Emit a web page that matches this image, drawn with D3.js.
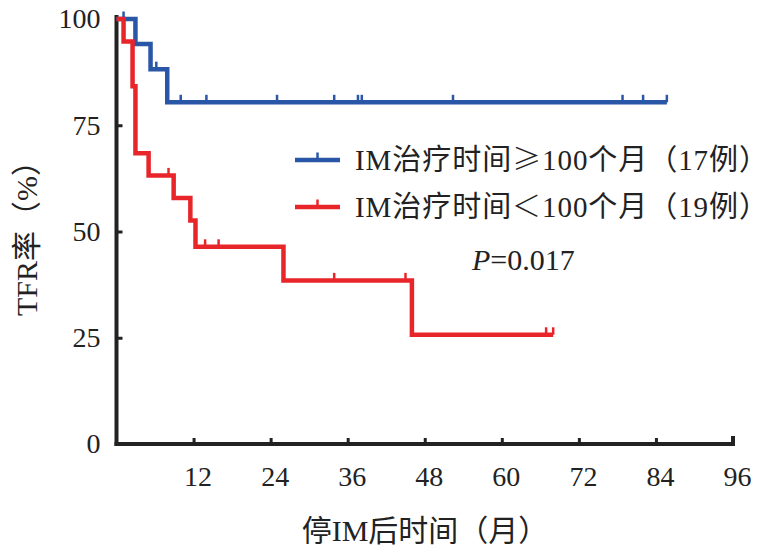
<!DOCTYPE html>
<html lang="zh">
<head>
  <meta charset="UTF-8">
  <title>TFR率</title>
  <style>
    body { margin: 0; background: #fff; }
    text { font-family: "Liberation Serif", "Noto Sans CJK SC", serif; fill: #222; }
  </style>
</head>
<body>
  <svg></svg>
  <script src="https://cdn.jsdelivr.net/npm/d3@7"></script>
  <script>
    // 横轴刻度（月）和纵轴刻度（%）
    var monthTicks = [12, 24, 36, 48, 60, 72, 84, 96];
    var rateTicks = [0, 25, 50, 75, 100];

    // IM治疗时间≥100个月：阶梯点和删失点
    var longTime = [0, 2.95, 5.3, 7.9, 85.7];
    var longRate = [100, 94.1, 88.2, 80.4, 80.4];
    var longCensor = [1.1, 6.2, 10, 14, 25, 33.9, 37.6, 38.2, 52.4, 78.8, 82, 85.7];

    // IM治疗时间<100个月
    var shortTime = [0, 1.1, 2.5, 2.95, 5.0, 8.9, 11.5, 12.3, 26, 46, 68];
    var shortRate = [100, 94.7, 84.2, 68.4, 63.2, 57.9, 52.6, 46.4, 38.5, 25.7, 25.7];
    var shortCensor = [8.1, 13.8, 15.9, 33.9, 45, 66.9, 68];

    var legendLabels = [
      ["IM治疗时间", "≥", "100个月（17例）"],
      ["IM治疗时间", "＜", "100个月（19例）"]
    ];
    var colors = ["#2a56a8", "#e8262a"];

    var width = 776, height = 558;
    var svg = d3.select("svg").attr("width", width).attr("height", height);

    var x = d3.scaleLinear().domain([0, 96]).range([116.5, 733]);
    var y = d3.scaleLinear().domain([0, 100]).range([444, 19]);

    var line = d3.line()
      .x(function (d) { return x(d[0]); })
      .y(function (d) { return y(d[1]); })
      .curve(d3.curveStepAfter);

    // 按时间取生存率
    function rateAt(times, rates, t) {
      var i = d3.bisectRight(times, t) - 1;
      return rates[Math.max(0, i)];
    }

    // 坐标轴
    var axisColor = "#222";
    var xAxis = svg.append("g").attr("transform", "translate(0," + y(0) + ")")
      .call(d3.axisBottom(x).tickValues(monthTicks).tickSize(-6).tickPadding(22));
    var yAxis = svg.append("g").attr("transform", "translate(" + x(0) + ",0)")
      .call(d3.axisLeft(y).tickValues(rateTicks).tickSize(-6).tickPadding(16));
    [xAxis, yAxis].forEach(function (g) {
      g.select(".domain").attr("stroke", axisColor).attr("stroke-width", 4)
        .attr("stroke-linecap", "square");
      g.selectAll(".tick line").attr("stroke", axisColor).attr("stroke-width", 3);
      g.selectAll(".tick text").attr("font-size", 28)
        .attr("font-family", "Liberation Serif").attr("fill", axisColor);
    });
    xAxis.selectAll(".tick text").attr("dy", "0.71em").attr("dx", 4);
    // 纵轴线延伸到坐标原点
    yAxis.select(".domain").attr("d", "M0," + y(0) + "V" + (y(100) - 2));
    xAxis.select(".domain").attr("d", "M" + x(0) + ",0H" + x(96) + "V-6");

    // 生存曲线
    var groups = [
      { t: longTime, r: longRate, c: longCensor, color: colors[0] },
      { t: shortTime, r: shortRate, c: shortCensor, color: colors[1] }
    ];
    groups.forEach(function (s) {
      var pts = s.t.map(function (t, i) { return [t, s.r[i]]; });
      svg.append("path")
        .datum(pts)
        .attr("fill", "none")
        .attr("stroke", s.color)
        .attr("stroke-width", 4.5)
        .attr("stroke-linejoin", "miter")
        .attr("d", line);
      svg.append("g").selectAll("line")
        .data(s.c)
        .join("line")
        .attr("x1", function (d) { return x(d); })
        .attr("x2", function (d) { return x(d); })
        .attr("y1", function (d) { return y(rateAt(s.t, s.r, d)); })
        .attr("y2", function (d) { return y(rateAt(s.t, s.r, d)) - 7.5; })
        .attr("stroke", s.color)
        .attr("stroke-width", 2.5);
    });

    // 图例
    var legend = svg.append("g").attr("transform", "translate(295,160)");
    legendLabels.forEach(function (parts, i) {
      var row = legend.append("g").attr("transform", "translate(0," + i * 47 + ")");
      row.append("line").attr("x1", 0).attr("x2", 45).attr("y1", 0).attr("y2", 0)
        .attr("stroke", colors[i]).attr("stroke-width", 4.5);
      row.append("line").attr("x1", 22.5).attr("x2", 22.5).attr("y1", 0).attr("y2", -7.5)
        .attr("stroke", colors[i]).attr("stroke-width", 2.5);
      var t = row.append("text")
        .attr("x", 60)
        .attr("y", 0)
        .attr("dy", "0.36em")
        .attr("font-size", 29)
        .attr("textLength", 413)
        .attr("lengthAdjust", "spacing");
      t.append("tspan").text(parts[0]);
      t.append("tspan").attr("font-family", "Noto Sans CJK SC").attr("font-weight", 300).text(parts[1]);
      t.append("tspan").text(parts[2]);
    });

    // P值
    var pText = svg.append("text").attr("x", 472).attr("y", 270).attr("font-size", 30);
    pText.append("tspan").attr("font-style", "italic").text("P");
    pText.append("tspan").text("=0.017");

    // 轴标题
    svg.append("text")
      .attr("x", 425)
      .attr("y", 541)
      .attr("text-anchor", "middle")
      .attr("font-size", 30)
      .text("停IM后时间（月）");
    svg.append("text")
      .attr("transform", "translate(37," + 231 + ") rotate(-90)")
      .attr("text-anchor", "middle")
      .attr("font-size", 30)
      .text("TFR率（%）");
  </script>
</body>
</html>
